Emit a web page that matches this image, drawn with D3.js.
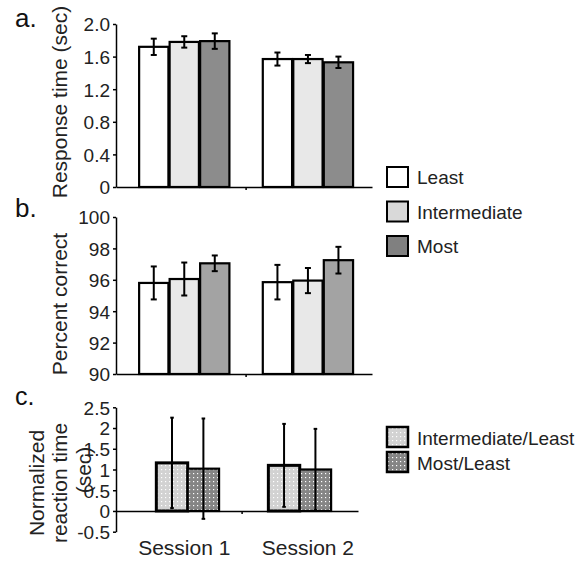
<!DOCTYPE html>
<html>
<head>
<meta charset="utf-8">
<script src="https://cdn.jsdelivr.net/npm/d3@7"></script>
<style>
  body { margin: 0; background: #fff; }
  svg { display: block; font-family: "Liberation Sans", Arial, Helvetica, sans-serif; }
  .axis text { font-size: 19px; fill: #222; }
  .axis path, .axis line { stroke: #000; stroke-width: 1.5; }
</style>
</head>
<body>
<div id="chart"></div>
<script>
// data
const sessions = ["Session 1", "Session 2"];
const conditions = ["Least", "Intermediate", "Most"];
const rtMean = [[1.72, 1.78, 1.79], [1.57, 1.57, 1.53]];
const rtErr = [[0.10, 0.07, 0.095], [0.08, 0.05, 0.07]];
const pcMean = [[95.8, 96.05, 97.05], [95.85, 95.95, 97.25]];
const pcErr = [[1.05, 1.05, 0.5], [1.1, 0.8, 0.85]];
const ratios = ["Intermediate/Least", "Most/Least"];
const normMean = [[1.16, 1.02], [1.10, 1.00]];
const normErr = [[1.09, 1.21], [1.0, 0.98]];
const rtTicks = [0, 0.4, 0.8, 1.2, 1.6, 2.0];
const pcTicks = [90, 92, 94, 96, 98, 100];
const normTicks = [-0.5, 0, 0.5, 1, 1.5, 2, 2.5];

const width = 584, height = 569;
const svg = d3.select("#chart").append("svg")
  .attr("width", width).attr("height", height);

const defs = svg.append("defs");
function dotPattern(id, bg) {
  const p = defs.append("pattern")
    .attr("id", id).attr("patternUnits", "userSpaceOnUse")
    .attr("width", 4).attr("height", 4);
  p.append("rect").attr("width", 4).attr("height", 4).attr("fill", bg);
  p.append("rect").attr("x", 1).attr("y", 1).attr("width", 1.2).attr("height", 1.2).attr("fill", "#fff");
}
dotPattern("dotLight", "#d2d2d2");
dotPattern("dotDark", "#858585");

// shared session scale for panels a and b
const x0 = d3.scaleBand().domain(sessions).range([116, 372])
  .paddingInner(0.27).paddingOuter(0.17).align(0.55);
const x1 = d3.scaleBand().domain(conditions).range([0, x0.bandwidth()]).paddingInner(0.04);

function barPanel(opts) {
  const { y, ticks, fmt, means, errs, colors, labelY, title, letter, letterY } = opts;
  const g = svg.append("g");

  const rows = [];
  sessions.forEach((s, i) => conditions.forEach((c, j) => {
    rows.push({ s, c, v: means[i][j], e: errs[i][j], j });
  }));

  g.selectAll("rect.bar").data(rows).enter().append("rect")
    .attr("class", "bar")
    .attr("x", d => x0(d.s) + x1(d.c))
    .attr("y", d => y(d.v))
    .attr("width", x1.bandwidth())
    .attr("height", d => y.range()[0] - y(d.v))
    .attr("fill", d => colors[d.j])
    .attr("stroke", "#000").attr("stroke-width", 2.2);

  const eb = g.selectAll("g.err").data(rows).enter().append("g")
    .attr("transform", d => `translate(${x0(d.s) + x1(d.c) + x1.bandwidth() / 2},0)`)
    .attr("stroke", "#000").attr("stroke-width", 2);
  eb.append("line").attr("y1", d => y(d.v + d.e)).attr("y2", d => y(d.v - d.e));
  eb.append("line").attr("x1", -3).attr("x2", 3).attr("y1", d => y(d.v + d.e)).attr("y2", d => y(d.v + d.e));
  eb.append("line").attr("x1", -3).attr("x2", 3).attr("y1", d => y(d.v - d.e)).attr("y2", d => y(d.v - d.e));

  const base = y.range()[0];
  g.append("g").attr("class", "axis").attr("transform", `translate(0,${base})`)
    .call(d3.axisBottom(x0).tickSize(0).tickFormat(""));
  g.append("line")
    .attr("x1", x0(sessions[1]) - x0.step() * x0.paddingInner() / 2)
    .attr("x2", x0(sessions[1]) - x0.step() * x0.paddingInner() / 2)
    .attr("y1", base).attr("y2", base + 3).attr("stroke", "#000").attr("stroke-width", 1.5);

  g.append("g").attr("class", "axis").attr("transform", "translate(116,0)")
    .call(d3.axisLeft(y).tickValues(ticks).tickFormat(fmt).tickSize(3).tickSizeOuter(0).tickPadding(3))
    .call(a => a.selectAll("text").attr("dy", "0.36em"));

  g.append("text").attr("transform", `translate(67,${labelY}) rotate(-90)`)
    .attr("text-anchor", "middle").attr("font-size", 21).attr("fill", "#222").text(title);
  g.append("text").attr("x", 15).attr("y", letterY)
    .attr("font-size", 26).attr("fill", "#111").text(letter);
}

barPanel({
  y: d3.scaleLinear().domain([0, 2]).range([187, 24]),
  ticks: rtTicks, fmt: d => d === 0 ? "0" : d3.format(".1f")(d),
  means: rtMean, errs: rtErr, colors: ["#ffffff", "#e8e8e8", "#8c8c8c"],
  labelY: 102, title: "Response time (sec)", letter: "a.", letterY: 27
});

barPanel({
  y: d3.scaleLinear().domain([90, 100]).range([374, 217]),
  ticks: pcTicks, fmt: d => String(d),
  means: pcMean, errs: pcErr, colors: ["#ffffff", "#e8e8e8", "#a3a3a3"],
  labelY: 304, title: "Percent correct", letter: "b.", letterY: 217
});

// legend a/b
const legAB = svg.append("g").attr("transform", "translate(387,167)");
const legColors = ["#ffffff", "#d9d9d9", "#808080"];
conditions.forEach((c, i) => {
  const row = legAB.append("g").attr("transform", `translate(0,${i * 34.5})`);
  row.append("rect").attr("width", 21).attr("height", 20)
    .attr("fill", legColors[i]).attr("stroke", "#000").attr("stroke-width", 2);
  row.append("text").attr("x", 30).attr("y", 17).attr("font-size", 19).attr("fill", "#222").text(c);
});

// panel c
const yc = d3.scaleLinear().domain([-0.5, 2.5]).range([531.7, 407.3]);
const xc0 = d3.scaleBand().domain(sessions).range([116, 358])
  .paddingInner(0.44).paddingOuter(0.3).align(0.6);
const xc1 = d3.scaleBand().domain(ratios).range([0, xc0.bandwidth()]);
const fillsC = ["url(#dotLight)", "url(#dotDark)"];

const gc = svg.append("g");
const rowsC = [];
sessions.forEach((s, i) => ratios.forEach((r, j) => {
  rowsC.push({ s, r, v: normMean[i][j], e: normErr[i][j], j });
}));

gc.selectAll("rect.bar").data(rowsC).enter().append("rect")
  .attr("x", d => xc0(d.s) + xc1(d.r))
  .attr("y", d => yc(d.v))
  .attr("width", xc1.bandwidth())
  .attr("height", d => yc(0) - yc(d.v))
  .attr("fill", d => fillsC[d.j])
  .attr("stroke", "#000").attr("stroke-width", d => d.j === 0 ? 3 : 2.2);

const ebc = gc.selectAll("g.err").data(rowsC).enter().append("g")
  .attr("transform", d => `translate(${xc0(d.s) + xc1(d.r) + xc1.bandwidth() / 2},0)`)
  .attr("stroke", "#000").attr("stroke-width", 2);
ebc.append("line").attr("y1", d => yc(d.v + d.e)).attr("y2", d => yc(d.v - d.e));
ebc.append("line").attr("x1", -1.8).attr("x2", 1.8).attr("y1", d => yc(d.v + d.e)).attr("y2", d => yc(d.v + d.e));
ebc.append("line").attr("x1", -1.8).attr("x2", 1.8).attr("y1", d => yc(d.v - d.e)).attr("y2", d => yc(d.v - d.e));

gc.append("g").attr("class", "axis").attr("transform", `translate(0,${yc(0)})`)
  .call(d3.axisBottom(xc0).tickSize(0).tickFormat(""));
gc.append("line")
  .attr("x1", x0(sessions[1]) - x0.step() * x0.paddingInner() / 2 - 4)
  .attr("x2", x0(sessions[1]) - x0.step() * x0.paddingInner() / 2 - 4)
  .attr("y1", yc(0)).attr("y2", yc(0) + 3).attr("stroke", "#000").attr("stroke-width", 1.5);

gc.append("g").attr("class", "axis").attr("transform", "translate(116,0)")
  .call(d3.axisLeft(yc).tickValues(normTicks).tickFormat(d => String(d)).tickSize(3).tickSizeOuter(0).tickPadding(3))
  .call(a => a.selectAll("text").attr("dy", "0.36em"));

gc.append("text").attr("transform", "translate(44,483) rotate(-90)")
  .attr("text-anchor", "middle").attr("font-size", 21).attr("fill", "#222").text("Normalized");
gc.append("text").attr("transform", "translate(67,483) rotate(-90)")
  .attr("text-anchor", "middle").attr("font-size", 21).attr("fill", "#222").text("reaction time");
gc.append("text").attr("transform", "translate(91,470) rotate(-90)")
  .attr("text-anchor", "middle").attr("font-size", 21).attr("fill", "#222").text("(sec)");
gc.append("text").attr("x", 15).attr("y", 405)
  .attr("font-size", 25).attr("fill", "#111").text("c.");

gc.selectAll("text.session").data(sessions).enter().append("text")
  .attr("x", d => x0(d) + x0.bandwidth() / 2).attr("y", 555)
  .attr("text-anchor", "middle").attr("font-size", 21).attr("fill", "#222").text(d => d);

// legend c
const legC = svg.append("g").attr("transform", "translate(387,427)");
const legFillsC = ["url(#dotLight)", "url(#dotDark)"];
ratios.forEach((r, i) => {
  const row = legC.append("g").attr("transform", `translate(0,${i * 25})`);
  row.append("rect").attr("width", 21).attr("height", 20)
    .attr("fill", legFillsC[i]).attr("stroke", "#000").attr("stroke-width", 2.5);
  row.append("text").attr("x", 30).attr("y", 18).attr("font-size", 19).attr("fill", "#222").text(r);
});
</script>
</body>
</html>
